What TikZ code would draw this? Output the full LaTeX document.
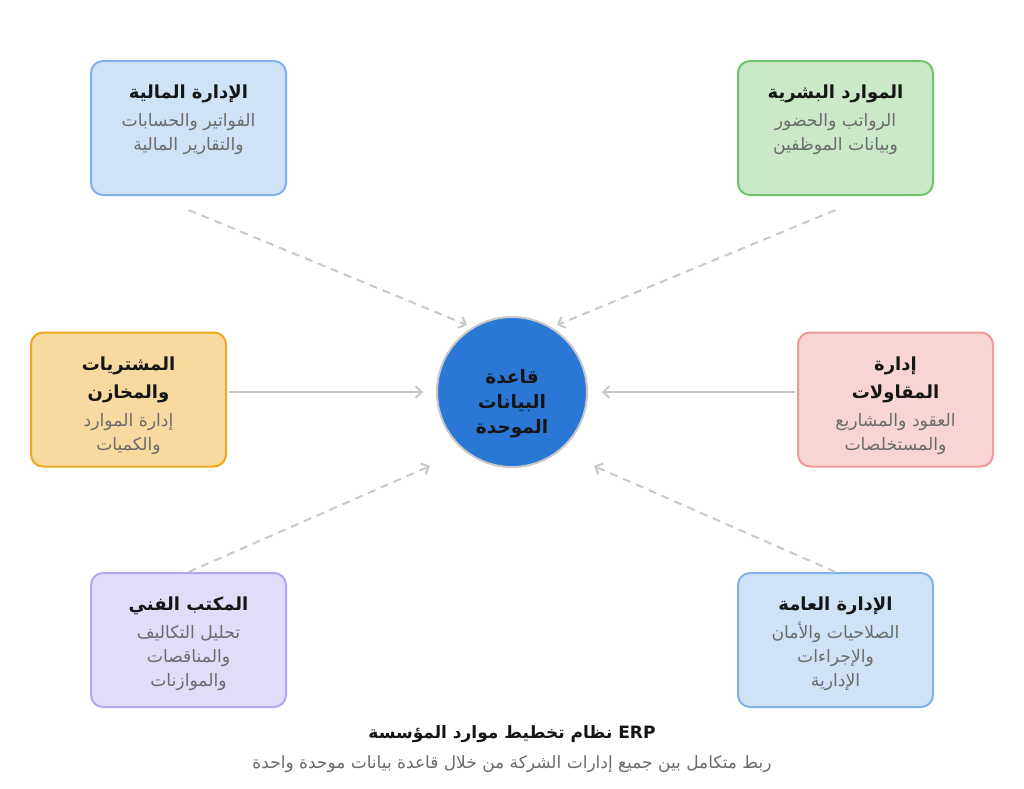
\documentclass[tikz,border=0pt]{standalone}
\usepackage{fontspec}
\setmainfont{DejaVu Sans}
\newfontfamily\arabicfont[Script=Arabic]{DejaVu Sans}
\TeXXeTstate=1
\usetikzlibrary{arrows.meta,positioning}

\definecolor{inkmain}{HTML}{151515}
\definecolor{inksub}{HTML}{6B6B6B}
\definecolor{linkgray}{HTML}{C8C8C8}
\definecolor{hubfill}{HTML}{2A77D6}
\definecolor{blueFill}{HTML}{CFE2F8}
\definecolor{blueLine}{HTML}{7EB1EE}
\definecolor{greenFill}{HTML}{CBE8C9}
\definecolor{greenLine}{HTML}{6CC66A}
\definecolor{amberFill}{HTML}{F8D9A0}
\definecolor{amberLine}{HTML}{EEA81C}
\definecolor{roseFill}{HTML}{F9D4D4}
\definecolor{roseLine}{HTML}{EE9B9B}
\definecolor{lilacFill}{HTML}{E0DCFA}
\definecolor{lilacLine}{HTML}{B1A6F2}

\newcommand{\rl}[1]{\beginR #1\endR}
\newcommand{\depthd}[1]{{\bfseries\fontsize{18}{24}\selectfont\color{inkmain}\rl{#1}}}
\newcommand{\deptsub}[1]{{\color{inksub}\rl{#1}}}

\tikzset{
  dept/.style={draw, rounded corners=12pt, line width=2pt,
    minimum width=195pt, minimum height=134pt},
  depttext/.style={align=center, inner sep=0pt,
    font=\arabicfont\fontsize{17.2}{24}\selectfont},
  hub/.style={circle, draw=linkgray, line width=2pt, fill=hubfill,
    minimum size=150pt, inner sep=0pt},
  hubtext/.style={align=center, inner sep=0pt, text=inkmain,
    font=\arabicfont\bfseries\fontsize{18.5}{25}\selectfont},
  link/.style={draw=linkgray, line width=2pt,
    -{Straight Barb[length=6pt,width=12pt]}},
  dlink/.style={link, dash pattern=on 8pt off 6pt}
}

\begin{document}
\begin{tikzpicture}[x=1pt,y=-1pt]
\useasboundingbox (0,0) rectangle (1024,788);

% hub
\node[hub] (db) at (512,392) {};
\node[hubtext] (dbT) at ([yshift=-12pt]db.center) {\rl{قاعدة}\\\rl{البيانات}\\\rl{الموحدة}};

% departments
\node[dept, fill=blueFill, draw=blueLine] (fin) at (188.5,128) {};
\node[dept, fill=greenFill, draw=greenLine] (hr) at (835.5,128) {};
\node[dept, fill=amberFill, draw=amberLine] (proc) at (128.5,399.5) {};
\node[dept, fill=roseFill, draw=roseLine] (cont) at (895.5,399.5) {};
\node[dept, fill=lilacFill, draw=lilacLine] (tech) at (188.5,640) {};
\node[dept, fill=blueFill, draw=blueLine] (adm) at (835.5,640) {};

\node[depttext, below=25pt of fin.north] (finT)
  {\depthd{الإدارة المالية}\\[4pt]\deptsub{الفواتير والحسابات}\\\deptsub{والتقارير المالية}};
\node[depttext, below=25pt of hr.north] (hrT)
  {\depthd{الموارد البشرية}\\[4pt]\deptsub{الرواتب والحضور}\\\deptsub{وبيانات الموظفين}};
\node[depttext, below=25pt of proc.north] (procT)
  {\depthd{المشتريات}\\[4pt]\depthd{والمخازن}\\[4pt]\deptsub{إدارة الموارد}\\\deptsub{والكميات}};
\node[depttext, below=25pt of cont.north] (contT)
  {\depthd{إدارة}\\[4pt]\depthd{المقاولات}\\[4pt]\deptsub{العقود والمشاريع}\\\deptsub{والمستخلصات}};
\node[depttext, below=25pt of tech.north] (techT)
  {\depthd{المكتب الفني}\\[4pt]\deptsub{تحليل التكاليف}\\\deptsub{والمناقصات}\\\deptsub{والموازنات}};
\node[depttext, below=25pt of adm.north] (admT)
  {\depthd{الإدارة العامة}\\[4pt]\deptsub{الصلاحيات والأمان}\\\deptsub{والإجراءات}\\\deptsub{الإدارية}};

% arrow ends near the hub
\coordinate (inNW) at (467,325);
\coordinate (inNE) at (557,325);
\coordinate (inW) at (423,392);
\coordinate (inE) at (602,392);
\coordinate (inSW) at (430,466);
\coordinate (inSE) at (594,466);

\draw[dlink] ([yshift=-14pt]fin.south) -- (inNW);
\draw[dlink] ([yshift=-14pt]hr.south) -- (inNE);
\draw[link] ([xshift=2pt,yshift=7.5pt]proc.east) -- (inW);
\draw[link] ([xshift=-2pt,yshift=7.5pt]cont.west) -- (inE);
\draw[dlink] (tech.north) -- (inSW);
\draw[dlink] (adm.north) -- (inSE);

% caption
\node[font=\arabicfont\bfseries\fontsize{17}{22}\selectfont, text=inkmain] (cap) at (512,734)
  {\rl{ERP نظام تخطيط موارد المؤسسة}};
\node[font=\arabicfont\fontsize{17}{20}\selectfont, text=inksub, below=6pt of cap] (capSub)
  {\rl{ربط متكامل بين جميع إدارات الشركة من خلال قاعدة بيانات موحدة واحدة}};
\end{tikzpicture}
\end{document}
